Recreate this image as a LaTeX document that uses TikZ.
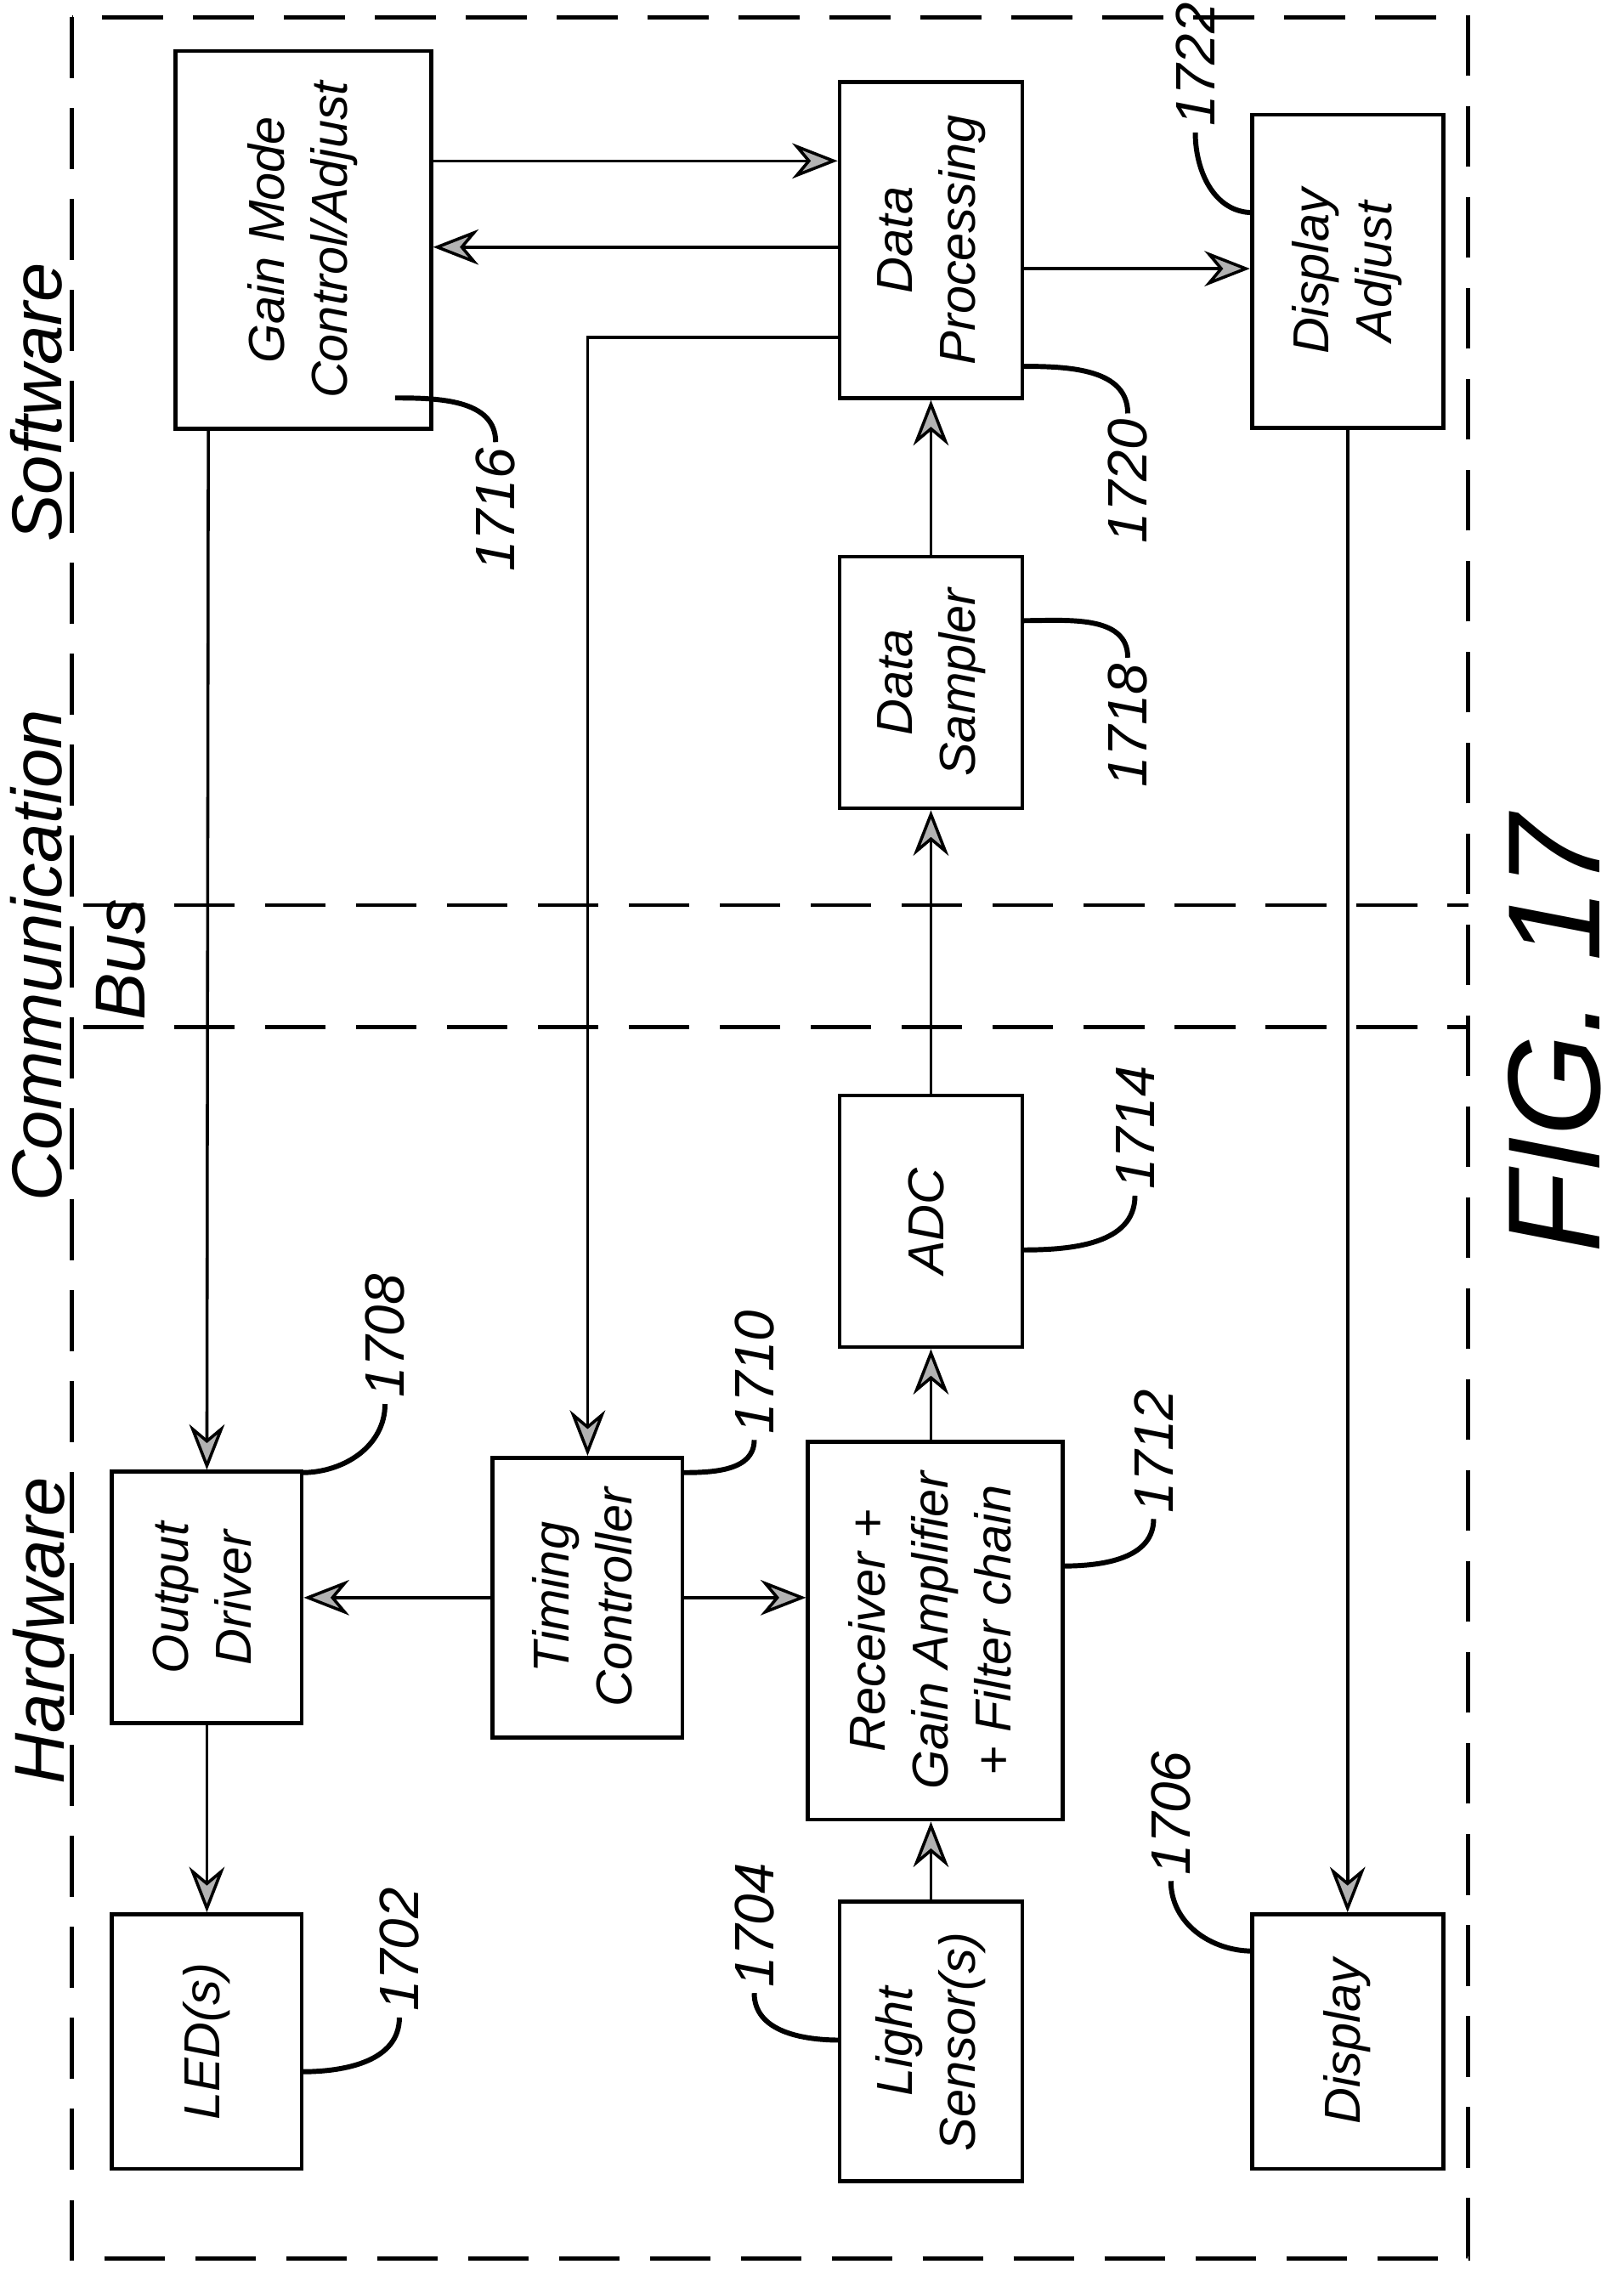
\documentclass[tikz,border=0pt]{standalone}
\usepackage{fontspec}
\setmainfont{Liberation Sans}
\usetikzlibrary{arrows.meta}
\tikzset{
    blk/.style={draw, line width=0.8pt, inner sep=0pt, font=\itshape\fontsize{10}{12.5}\selectfont},
    flow/.style={line width=0.6pt, -{Stealth[length=9pt, width=7pt, fill=gray!60]}},
    lead/.style={line width=1pt},
    ref/.style={inner sep=1pt, font=\itshape\fontsize{11}{13}\selectfont},
    zone/.style={font=\itshape\fontsize{14}{17}\selectfont, inner sep=0pt}
}
\newcommand{\vtext}[1]{\rotatebox{90}{\begin{tabular}{c}#1\end{tabular}}}
\begin{document}
\begin{tikzpicture}[x=0.01cm, y=-0.01cm]
    \useasboundingbox (0,0) rectangle (1130,1580);
    % frame and bus
    \draw[dashed, line width=0.8pt, dash pattern=on 12pt off 6pt] (50,12) rectangle (1022,1572);
    \draw[dashed, line width=0.8pt, dash pattern=on 12pt off 6pt] (58,630) -- (1022,630) (58,715) -- (1022,715);
    \node[zone] (sw) at (25,280) {\rotatebox{90}{Software}};
    \node[zone] (com) at (25,665) {\rotatebox{90}{Communication}};
    \node[zone] (bus) at (84,668) {\rotatebox{90}{Bus}};
    \node[zone] (hw) at (27,1135) {\rotatebox{90}{Hardware}};
    \node[font=\itshape\fontsize{26}{30}\selectfont] (fig) at (1082,720) {\rotatebox{90}{FIG. 17}};
    % blocks
    \node[blk, minimum width=1.78cm, minimum height=2.20cm] (gain) at (211,167) {\vtext{Gain Mode\\Control/Adjust}};
    \node[blk, minimum width=1.27cm, minimum height=2.20cm] (proc) at (648,167) {\vtext{Data\\Processing}};
    \node[blk, minimum width=1.33cm, minimum height=2.18cm] (dadj) at (938,189) {\vtext{Display\\Adjust}};
    \node[blk, minimum width=1.27cm, minimum height=1.75cm] (samp) at (648,475) {\vtext{Data\\Sampler}};
    \node[blk, minimum width=1.27cm, minimum height=1.75cm] (adc) at (648,850) {\vtext{ADC}};
    \node[blk, minimum width=1.32cm, minimum height=1.75cm] (drv) at (144,1112) {\vtext{Output\\Driver}};
    \node[blk, minimum width=1.32cm, minimum height=1.75cm] (tim) at (409,1112) {\vtext{Timing\\Controller}};
    \node[blk, minimum width=1.77cm, minimum height=2.20cm] (rcv) at (651,1135) {\vtext{Receiver +\\Gain Amplifier\\+ Filter chain}};
    \node[blk, minimum width=1.32cm, minimum height=1.77cm] (led) at (144,1421) {\vtext{LED(s)}};
    \node[blk, minimum width=1.27cm, minimum height=1.77cm] (sens) at (648,1421) {\vtext{Light\\Sensor(s)}};
    \node[blk, minimum width=1.33cm, minimum height=1.77cm] (disp) at (938,1421) {\vtext{Display}};
    % signal flow
    \draw[flow] (gain.east |- 0,112) -- (proc.west |- 0,112);
    \draw[flow] (proc.west |- 0,172) -- (gain.east |- 0,172);
    \draw[flow] (proc.east |- 0,187) -- (dadj.west |- 0,187);
    \draw[flow] (proc.west |- 0,235) -| (tim.north);
    \draw[flow] (gain.south -| 145,0) -- (drv.north);
    \draw[flow] (samp.north) -- (proc.south);
    \draw[flow] (adc.north) -- (samp.south);
    \draw[flow] (rcv.north -| adc.south) -- (adc.south);
    \draw[flow] (sens.north) -- (sens.north |- rcv.south);
    \draw[flow] (drv.south) -- (led.north);
    \draw[flow] (tim.west) -- (drv.east);
    \draw[flow] (tim.east) -- (rcv.west |- tim.east);
    \draw[flow] (dadj.south) -- (disp.north);
    % reference numerals
    \node[ref] (n1716) at (345,355) {\rotatebox{90}{1716}};
    \node[ref] (n1720) at (785,335) {\rotatebox{90}{1720}};
    \node[ref] (n1722) at (832,45) {\rotatebox{90}{1722}};
    \node[ref] (n1718) at (785,505) {\rotatebox{90}{1718}};
    \node[ref] (n1714) at (790,785) {\rotatebox{90}{1714}};
    \node[ref] (n1708) at (268,930) {\rotatebox{90}{1708}};
    \node[ref] (n1710) at (525,955) {\rotatebox{90}{1710}};
    \node[ref] (n1712) at (803,1010) {\rotatebox{90}{1712}};
    \node[ref] (n1706) at (815,1262) {\rotatebox{90}{1706}};
    \node[ref] (n1704) at (525,1340) {\rotatebox{90}{1704}};
    \node[ref] (n1702) at (278,1357) {\rotatebox{90}{1702}};
    \draw[lead] (275,277) to[out=0, in=90] (n1716.north);
    \draw[lead] (712,255) to[out=0, in=90] (n1720.north);
    \draw[lead] (872,148) to[out=180, in=-90] (n1722.south);
    \draw[lead] (712,432) to[out=0, in=90] (n1718.north);
    \draw[lead] (712,870) to[out=0, in=-90] (n1714.south);
    \draw[lead] (210,1025) to[out=0, in=-90] (n1708.south);
    \draw[lead] (475,1025) to[out=0, in=-90] (n1710.south);
    \draw[lead] (740,1090) to[out=0, in=-90] (n1712.south);
    \draw[lead] (872,1358) to[out=180, in=-90] (n1706.south);
    \draw[lead] (585,1420) to[out=180, in=-90] (n1704.south);
    \draw[lead] (210,1442) to[out=0, in=-90] (n1702.south);
\end{tikzpicture}
\end{document}
